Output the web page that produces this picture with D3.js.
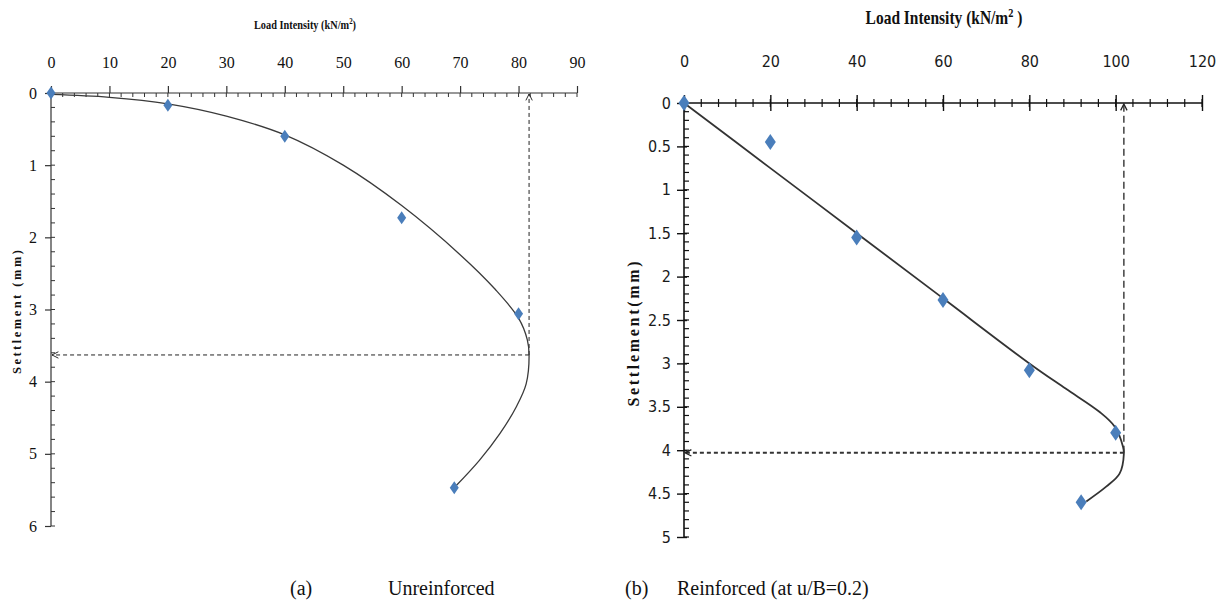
<!DOCTYPE html>
<html><head><meta charset="utf-8">
<script src="https://cdn.jsdelivr.net/npm/d3@7"></script>
<style>body{margin:0;background:#fff}svg{display:block}</style>
</head><body>
<svg id="c" width="1225" height="604"></svg>
<script>
// ---- data ----
const leftLoad = [0, 20, 40, 60, 80, 69];
const leftSettle = [0, 0.17, 0.6, 1.73, 3.06, 5.47];
const leftCurveLoad = [0, 10, 20, 30, 40, 50, 60, 70, 76, 80, 81.5, 81.8, 81.3, 79.6, 76.8, 73.3, 69.1];
const leftCurveSettle = [0.02, 0.06, 0.15, 0.32, 0.58, 1.0, 1.56, 2.24, 2.72, 3.12, 3.42, 3.63, 4.03, 4.35, 4.72, 5.09, 5.46];
const leftUlt = [81.8, 3.63];
const leftXTicks = [0, 10, 20, 30, 40, 50, 60, 70, 80, 90];
const leftYTicks = [0, 1, 2, 3, 4, 5, 6];

const rightLoad = [0, 20, 40, 60, 80, 100, 92];
const rightSettle = [0, 0.45, 1.55, 2.27, 3.08, 3.8, 4.6];
const rightCurveLoad = [0, 20, 40, 60, 80, 88.4, 96.3, 99.8, 101.7, 101.9, 100.9, 97.8, 93.2];
const rightCurveSettle = [0, 0.75, 1.5, 2.25, 3.0, 3.29, 3.56, 3.73, 3.96, 4.04, 4.27, 4.42, 4.59];
const rightUlt = [101.9, 4.03];
const rightXTicks = [0, 20, 40, 60, 80, 100, 120];
const rightYTicks = [0, 0.5, 1, 1.5, 2, 2.5, 3, 3.5, 4, 4.5, 5];

const SERIF = '"Liberation Serif", "Times New Roman", serif';
const NARROW = '"Liberation Sans Narrow", "DejaVu Sans Condensed", sans-serif';

const svg = d3.select('#c');
const defs = svg.append('defs');
function arrowMarker(id, w) {
  defs.append('marker').attr('id', id).attr('viewBox', '0 0 10 10')
    .attr('refX', 9).attr('refY', 5).attr('markerWidth', 8).attr('markerHeight', 8)
    .attr('markerUnits', 'userSpaceOnUse').attr('orient', 'auto')
    .append('path').attr('d', 'M1,1 L9,5 L1,9').attr('fill', 'none')
    .attr('stroke', '#222').attr('stroke-width', w);
}
arrowMarker('arL', 1.2);
arrowMarker('arR', 1.6);

function diamond(w, h) { return `M0,${-h/2} L${w/2},0 L0,${h/2} L${-w/2},0 Z`; }

// ---------- LEFT CHART ----------
{
  const x = d3.scaleLinear().domain([0, 90]).range([51, 577]);
  const y = d3.scaleLinear().domain([0, 6]).range([93, 526]);
  const g = svg.append('g');
  g.selectAll('.mx').data(d3.range(0, 90.01, 2)).join('line')
    .attr('x1', d => x(d)).attr('x2', d => x(d)).attr('y1', y(0)).attr('y2', y(0) + 4)
    .attr('stroke', '#333').attr('stroke-width', 1);
  g.selectAll('.my').data(d3.range(0, 6.01, 0.2)).join('line')
    .attr('y1', d => y(d)).attr('y2', d => y(d)).attr('x1', x(0)).attr('x2', x(0) + 4)
    .attr('stroke', '#333').attr('stroke-width', 1);
  const xa = d3.axisTop(x).tickValues(leftXTicks).tickSize(7).tickPadding(18).tickFormat(d3.format('d'));
  const ya = d3.axisLeft(y).tickValues(leftYTicks).tickSize(6).tickPadding(8).tickFormat(d3.format('d'));
  const gx = g.append('g').attr('transform', `translate(0,${y(0)})`).call(xa);
  const gy = g.append('g').attr('transform', `translate(${x(0)},0)`).call(ya);
  [gx, gy].forEach(a => {
    a.attr('font-family', null).attr('font-size', null);
    a.select('.domain').attr('stroke', '#333').attr('stroke-width', 1.2);
    a.selectAll('.tick line').attr('stroke', '#333').attr('stroke-width', 1.2);
    a.selectAll('text').style('font-family', SERIF).style('font-size', '16px').attr('fill', '#111');
  });
  gx.select('.domain').attr('d', `M${x(0)},0H${x(90)}`);
  gy.select('.domain').attr('d', `M0,${y(0)}V${y(6)}`);

  g.append('line').attr('x1', x(leftUlt[0])).attr('x2', x(leftUlt[0])).attr('y1', y(leftUlt[1])).attr('y2', y(0) + 1)
    .attr('stroke', '#222').attr('stroke-width', 1).attr('stroke-dasharray', '4,3').attr('marker-end', 'url(#arL)');
  g.append('line').attr('x1', x(leftUlt[0])).attr('x2', x(0) + 1).attr('y1', y(leftUlt[1])).attr('y2', y(leftUlt[1]))
    .attr('stroke', '#222').attr('stroke-width', 1).attr('stroke-dasharray', '4,3').attr('marker-end', 'url(#arL)');

  const pts = leftCurveLoad.map((v, i) => [x(v), y(leftCurveSettle[i])]);
  g.append('path').attr('d', d3.line().curve(d3.curveCatmullRom.alpha(0.5))(pts))
    .attr('fill', 'none').attr('stroke', '#3a3a3a').attr('stroke-width', 1.3);
  g.selectAll('.pt').data(leftLoad.map((v, i) => [v, leftSettle[i]])).join('path')
    .attr('d', diamond(9, 13)).attr('transform', d => `translate(${x(d[0])},${y(d[1])})`)
    .attr('fill', '#4a7ebb');

  const t = g.append('text').attr('transform', 'translate(305,29) scale(0.86,1)')
    .attr('text-anchor', 'middle').style('font-family', SERIF)
    .attr('font-weight', 'bold').attr('font-size', 12).attr('fill', '#111');
  t.append('tspan').text('Load Intensity (kN/m');
  t.append('tspan').attr('font-size', 8).attr('dy', -5).text('2');
  t.append('tspan').attr('dy', 5).text(')');
  g.append('text').attr('transform', 'translate(21,312) rotate(-90)')
    .attr('text-anchor', 'middle').style('font-family', SERIF)
    .attr('font-weight', 'bold').attr('font-size', 12.5).attr('fill', '#111')
    .attr('textLength', 124).attr('lengthAdjust', 'spacing').text('Settlement (mm)');
}

// ---------- RIGHT CHART ----------
{
  const x = d3.scaleLinear().domain([0, 120]).range([684, 1202]);
  const y = d3.scaleLinear().domain([0, 5]).range([103, 537]);
  const g = svg.append('g');
  g.selectAll('.mx').data(d3.range(0, 120.01, 4)).join('line')
    .attr('x1', d => x(d)).attr('x2', d => x(d)).attr('y1', y(0) - 4).attr('y2', y(0) + 4)
    .attr('stroke', '#111').attr('stroke-width', 1.2);
  g.selectAll('.my').data(d3.range(0, 5.001, 0.1)).join('line')
    .attr('y1', d => y(d)).attr('y2', d => y(d)).attr('x1', x(0)).attr('x2', x(0) + 5)
    .attr('stroke', '#111').attr('stroke-width', 1.2);
  const xa = d3.axisTop(x).tickValues(rightXTicks).tickSize(8).tickPadding(28).tickFormat(d3.format('d'));
  const ya = d3.axisLeft(y).tickValues(rightYTicks).tickSize(7).tickPadding(6).tickFormat(d => String(d));
  const gx = g.append('g').attr('transform', `translate(0,${y(0)})`).call(xa);
  const gy = g.append('g').attr('transform', `translate(${x(0)},0)`).call(ya);
  gx.selectAll('.tick line').attr('y2', -8).attr('y1', 8);
  gy.selectAll('.tick line').attr('x1', 3);
  [gx, gy].forEach(a => {
    a.attr('font-family', null).attr('font-size', null);
    a.select('.domain').attr('stroke', '#111').attr('stroke-width', 1.6);
    a.selectAll('.tick line').attr('stroke', '#111').attr('stroke-width', 1.4);
    a.selectAll('text').style('font-family', NARROW).style('font-size', '16px').attr('fill', '#1a1a1a');
  });
  gx.select('.domain').attr('d', `M${x(0)},0H${x(120)}`);
  gy.select('.domain').attr('d', `M0,${y(0)}V${y(5)}`);

  g.append('line').attr('x1', x(rightUlt[0])).attr('x2', x(rightUlt[0])).attr('y1', y(rightUlt[1])).attr('y2', y(0) + 1)
    .attr('stroke', '#333').attr('stroke-width', 1.4).attr('stroke-dasharray', '7,4').attr('marker-end', 'url(#arR)');
  g.append('line').attr('x1', x(rightUlt[0])).attr('x2', x(0) + 1).attr('y1', y(rightUlt[1])).attr('y2', y(rightUlt[1]))
    .attr('stroke', '#333').attr('stroke-width', 2).attr('stroke-dasharray', '4,3').attr('marker-end', 'url(#arR)');

  const pts = rightCurveLoad.map((v, i) => [x(v), y(rightCurveSettle[i])]);
  g.append('path').attr('d', d3.line().curve(d3.curveCatmullRom.alpha(0.5))(pts))
    .attr('fill', 'none').attr('stroke', '#333').attr('stroke-width', 1.8);
  g.selectAll('.pt').data(rightLoad.map((v, i) => [v, rightSettle[i]])).join('path')
    .attr('d', diamond(11, 16)).attr('transform', d => `translate(${x(d[0])},${y(d[1])})`)
    .attr('fill', '#4a7ebb');

  const t = g.append('text').attr('transform', 'translate(944,24) scale(0.86,1)')
    .attr('text-anchor', 'middle').style('font-family', SERIF)
    .attr('font-weight', 'bold').attr('font-size', 18).attr('fill', '#111');
  t.append('tspan').text('Load Intensity (kN/m');
  t.append('tspan').attr('font-size', 12).attr('dy', -7).text('2');
  t.append('tspan').attr('dy', 7).text(' )');
  g.append('text').attr('transform', 'translate(639,334) rotate(-90)')
    .attr('text-anchor', 'middle').style('font-family', SERIF)
    .attr('font-weight', 'bold').attr('font-size', 16).attr('fill', '#111')
    .attr('textLength', 145).attr('lengthAdjust', 'spacing').text('Settlement(mm)');
}

// ---------- captions ----------
const cap = [['(a)', 290], ['Unreinforced', 388], ['(b)', 625], ['Reinforced (at u/B=0.2)', 677]];
svg.selectAll('.cap').data(cap).join('text')
  .attr('x', d => d[1]).attr('y', 595).text(d => d[0])
  .style('font-family', SERIF).attr('font-size', 20).attr('fill', '#111');
</script>
</body></html>
